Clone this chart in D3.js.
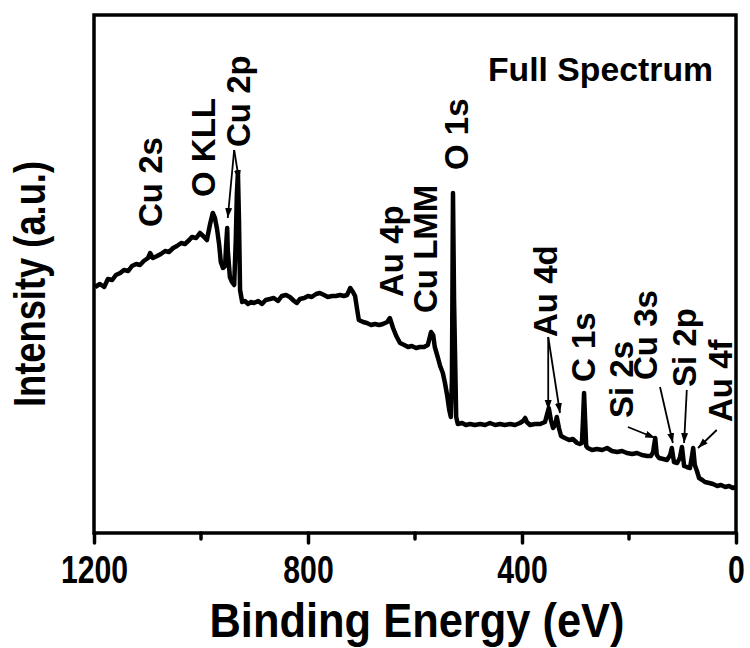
<!DOCTYPE html>
<html>
<head>
<meta charset="utf-8">
<script src="https://cdn.jsdelivr.net/npm/d3@7"></script>
<style>
    body { margin: 0; background: #fff; }
    svg { display: block; font-family: "Liberation Sans", Arial, sans-serif; font-weight: bold; }
</style>
</head>
<body>
<div id="chart"></div>
<script>
// XPS survey spectrum, binding energy (eV) vs intensity (a.u.)
const energy = [1198,1189,1181,1174,1166,1159,1151,1144,1136,1129,1121,1114,1107,1099,1095,1090,1082,1075,1067,1060,
    1052,1045,1037,1030,1022,1017,1009,1002,996,989,983,978,974,970,966,963,959,955,953,951,
    950,946,942,938,935,933,931,929,927,923,918,912,907,901,893,886,879,871,864,856,
    849,841,834,826,821,815,807,800,793,785,778,770,763,755,748,740,733,727,721,716,712,
    708,705,697,690,682,675,667,660,652,647,641,635,628,620,613,606,598,591,583,576,
    570,566,563,557,553,548,544,540,536,533,531,529,527,523,520,512,505,497,
    488,478,469,460,450,441,432,422,413,404,398,394,391,385,376,366,357,353,350,346,
    342,338,335,331,327,320,312,305,297,292,288,286,284,282,280,277,269,260,250,241,232,
    222,213,204,194,185,176,166,159,155,151,148,144,136,129,123,120,116,110,105,101,
    97,92,86,82,80,77,73,69,63,58,50,43,35,28,20,13,6,0];

const intensity = [246,249,246,254,253,258,260,263,262,267,269,268,272,275,280,275,277,279,282,281,
    285,287,290,289,293,296,295,300,297,293,309,320,315,304,288,271,265,267,288,305,
    283,256,251,248,293,338,361,313,243,231,232,229,231,230,232,229,233,234,235,232,
    237,238,236,232,230,234,235,237,236,239,240,238,236,237,237,238,237,238,245,241,237,
    223,213,211,210,208,209,208,209,211,215,205,197,190,188,186,187,185,186,186,188,
    201,198,186,175,167,160,150,138,123,116,153,340,233,116,109,110,108,109,
    108,109,108,110,108,109,108,109,108,110,112,115,111,108,109,109,111,119,125,113,
    105,108,116,105,97,95,93,94,90,89,90,113,140,113,87,85,83,84,83,85,82,
    81,82,80,79,80,78,77,77,81,95,78,75,74,73,78,85,71,70,75,86,
    67,66,65,78,85,68,62,55,53,51,50,49,47,48,46,47,45,46];

// peak labels: text, energy, intensity where the label starts (rotated)
const peakNames = ["Cu 2s", "O KLL", "Cu 2p", "Au 4p", "Cu LMM", "O 1s", "Au 4d", "C 1s", "Si 2s", "Cu 3s", "Si 2p", "Au 4f"];
const peakLabelE = [1073, 974, 908, 622, 559, 501, 335, 264, 193, 148, 75, 8];
const peakLabelI = [306, 336, 386, 236, 220, 363, 196, 151, 115, 153, 146, 111];

// arrows: from (E, I) to (E, I)
const arrowFromE = [938, 938, 351, 351, 202, 142, 92, 36];
const arrowFromI = [383, 383, 196, 196, 106, 146, 143, 103];
const arrowToE = [950, 929, 351, 329, 151, 118, 97, 71];
const arrowToI = [315, 353, 123, 120, 95, 90, 90, 85];

const xTicks = [1200, 800, 400, 0];
const xMinorTicks = [1000, 600, 200];

const margin = {top: 15, right: 14, bottom: 115, left: 94};
const width = 750 - margin.left - margin.right;
const height = 648 - margin.top - margin.bottom;

const svg = d3.select("#chart").append("svg")
    .attr("width", 750)
    .attr("height", 648);

svg.append("defs").append("marker")
    .attr("id", "head")
    .attr("viewBox", "0 -4 10 8")
    .attr("refX", 10)
    .attr("refY", 0)
    .attr("markerUnits", "userSpaceOnUse")
    .attr("markerWidth", 10)
    .attr("markerHeight", 8)
    .attr("orient", "auto")
    .append("path")
    .attr("d", "M0,-3.5L10,0L0,3.5Z")
    .attr("fill", "#000");

const g = svg.append("g").attr("transform", `translate(${margin.left},${margin.top})`);

const x = d3.scaleLinear().domain([1200, 0]).range([0, width]);
const y = d3.scaleLinear().domain([0, 518]).range([height, 0]);

const data = energy.map((e, i) => ({e: e, v: intensity[i]}));

// spectrum
g.append("path")
    .datum(data)
    .attr("fill", "none")
    .attr("stroke", "#000")
    .attr("stroke-width", 4.5)
    .attr("stroke-linejoin", "round")
    .attr("d", d3.line().x(d => x(d.e)).y(d => y(d.v)));

// frame
g.append("rect")
    .attr("width", width)
    .attr("height", height)
    .attr("fill", "none")
    .attr("stroke", "#000")
    .attr("stroke-width", 3.5);

// x axis
const xAxis = g.append("g")
    .attr("transform", `translate(0,${height})`)
    .call(d3.axisBottom(x).tickValues(xTicks).tickSize(10).tickFormat(d3.format("d")));
xAxis.select(".domain").remove();
xAxis.selectAll("line").attr("stroke-width", 3.5).attr("stroke-linecap", "round");
xAxis.selectAll("text")
    .attr("y", 50)
    .attr("dy", 0)
    .style("font-size", "39px")
    .style("font-family", "Liberation Sans, Arial, sans-serif")
    .style("font-weight", "bold")
    .attr("fill", "#000")
    .attr("textLength", d => String(d).length * 16.8)
    .attr("lengthAdjust", "spacingAndGlyphs");

g.append("g")
    .attr("transform", `translate(0,${height})`)
    .selectAll("line")
    .data(xMinorTicks)
    .join("line")
    .attr("x1", d => x(d))
    .attr("x2", d => x(d))
    .attr("y1", 0)
    .attr("y2", 6)
    .attr("stroke", "#000")
    .attr("stroke-width", 3.5)
    .attr("stroke-linecap", "round");

// axis titles
svg.append("text")
    .attr("x", margin.left + width / 2 + 2)
    .attr("y", 637)
    .attr("text-anchor", "middle")
    .style("font-size", "49px")
    .attr("textLength", 415)
    .attr("lengthAdjust", "spacingAndGlyphs")
    .text("Binding Energy (eV)");

svg.append("text")
    .attr("transform", "translate(45,407) rotate(-90)")
    .attr("text-anchor", "start")
    .style("font-size", "45px")
    .attr("textLength", 246)
    .attr("lengthAdjust", "spacingAndGlyphs")
    .text("Intensity (a.u.)");

// title inside plot
g.append("text")
    .attr("x", width - 23)
    .attr("y", 66)
    .attr("text-anchor", "end")
    .style("font-size", "33px")
    .attr("textLength", 225)
    .attr("lengthAdjust", "spacingAndGlyphs")
    .text("Full Spectrum");

// peak labels
g.selectAll("text.peak")
    .data(peakNames)
    .join("text")
    .attr("class", "peak")
    .attr("transform", (d, i) => `translate(${x(peakLabelE[i])},${y(peakLabelI[i])}) rotate(-90)`)
    .style("font-size", "33px")
    .text(d => d);

// arrows
g.selectAll("line.arrow")
    .data(arrowFromE)
    .join("line")
    .attr("class", "arrow")
    .attr("x1", (d, i) => x(arrowFromE[i]))
    .attr("y1", (d, i) => y(arrowFromI[i]))
    .attr("x2", (d, i) => x(arrowToE[i]))
    .attr("y2", (d, i) => y(arrowToI[i]))
    .attr("stroke", "#000")
    .attr("stroke-width", 1.8)
    .attr("marker-end", "url(#head)");
</script>
</body>
</html>
